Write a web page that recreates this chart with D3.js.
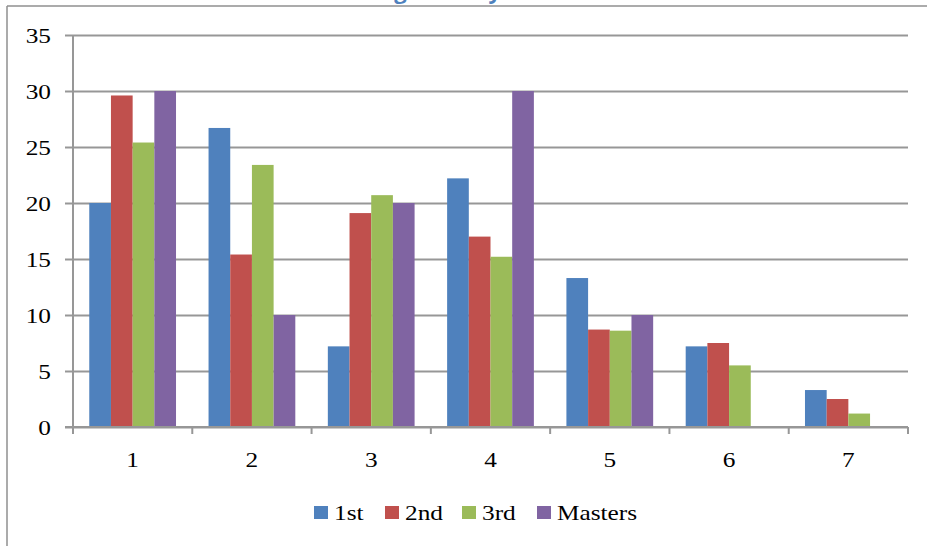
<!DOCTYPE html>
<html>
<head>
<meta charset="utf-8">
<script src="https://cdn.jsdelivr.net/npm/d3@7"></script>
<style>
  html, body { margin: 0; padding: 0; background: #fff; }
  svg { display: block; }
</style>
</head>
<body>
<svg id="chart" width="927" height="546"></svg>
<script>
// Categories along the x axis and one value array per series (percent)
const categories = ["1", "2", "3", "4", "5", "6", "7"];
const seriesNames = ["1st", "2nd", "3rd", "Masters"];
const first   = [20.0, 26.7, 7.2, 22.2, 13.3, 7.2, 3.3];
const second  = [29.6, 15.4, 19.1, 17.0, 8.7, 7.5, 2.5];
const third   = [25.4, 23.4, 20.7, 15.2, 8.6, 5.5, 1.2];
const masters = [30.0, 10.0, 20.0, 30.0, 10.0, 0, 0];
const yTicks  = [0, 5, 10, 15, 20, 25, 30, 35];
const titleText = "Ranking Band by Year";

const seriesValues = [first, second, third, masters];
const colors = ["#4F81BD", "#C0504D", "#9BBB59", "#8064A2"];

const svg = d3.select("#chart");
const W = 927, H = 546;
const plot = { left: 73, right: 908, top: 35, bottom: 427 };
const serif = "'Liberation Serif', 'Times New Roman', serif";
const gridColor = "#979797";
const stretch = 1.15;

// outer chart frame (only left and top edges fall inside the view)
svg.append("line").attr("x1", 7).attr("x2", W).attr("y1", 6).attr("y2", 6)
  .attr("stroke", "#8f8f8f").attr("stroke-width", 1.5);
svg.append("line").attr("x1", 7).attr("x2", 7).attr("y1", 6).attr("y2", H)
  .attr("stroke", "#8f8f8f").attr("stroke-width", 1.5);

// title, sitting mostly above the top edge of the view
svg.append("text")
  .attr("x", 437).attr("y", -1)
  .attr("text-anchor", "middle")
  .attr("font-family", "'Open Sans', sans-serif")
  .attr("font-weight", "bold")
  .attr("font-size", 22)
  .attr("fill", "#4F81BD")
  .text(titleText);

const x = d3.scaleBand()
  .domain(categories)
  .range([plot.left, plot.right])
  .paddingInner(0).paddingOuter(0);

const barW = x.bandwidth() / 5.5;
const xInner = d3.scaleBand()
  .domain(seriesNames)
  .range([barW * 0.75, x.bandwidth() - barW * 0.75]);

const y = d3.scaleLinear().domain([0, 35]).range([plot.bottom, plot.top]);

// horizontal gridlines with small outward ticks
const yAxis = d3.axisLeft(y).tickValues(yTicks)
  .tickSize(-(plot.right - plot.left)).tickSizeOuter(0).tickFormat("");
const gy = svg.append("g").attr("transform", `translate(${plot.left},0)`).call(yAxis);
gy.select(".domain").remove();
gy.selectAll(".tick line")
  .attr("x1", -8)
  .attr("stroke", gridColor).attr("stroke-width", 2);

// y tick labels
svg.append("g").selectAll("text")
  .data(yTicks)
  .join("text")
  .attr("transform", d => `translate(51,${y(d) + 8}) scale(${stretch},1)`)
  .attr("text-anchor", "end")
  .attr("font-family", serif)
  .attr("font-size", 22)
  .attr("fill", "#000")
  .text(d => d);

// vertical axis line
svg.append("line")
  .attr("x1", plot.left).attr("x2", plot.left)
  .attr("y1", plot.top).attr("y2", plot.bottom + 7)
  .attr("stroke", gridColor).attr("stroke-width", 2);

// bars
const rows = categories.map((c, i) => ({ cat: c, vals: seriesNames.map((s, j) => ({ s, j, v: seriesValues[j][i] })) }));
const groups = svg.append("g").selectAll("g")
  .data(rows)
  .join("g")
  .attr("transform", d => `translate(${x(d.cat)},0)`);
groups.selectAll("rect")
  .data(d => d.vals.filter(e => e.v > 0))
  .join("rect")
  .attr("x", d => xInner(d.s))
  .attr("width", xInner.bandwidth())
  .attr("y", d => y(d.v))
  .attr("height", d => y(0) - y(d.v))
  .attr("fill", d => colors[d.j]);

// x axis with category boundary ticks
const xBounds = categories.map(c => x(c)).concat([plot.right]);
svg.append("line")
  .attr("x1", plot.left - 8).attr("x2", plot.right)
  .attr("y1", plot.bottom).attr("y2", plot.bottom)
  .attr("stroke", gridColor).attr("stroke-width", 2);
svg.append("g").selectAll("line")
  .data(xBounds)
  .join("line")
  .attr("x1", d => d).attr("x2", d => d)
  .attr("y1", plot.bottom).attr("y2", plot.bottom + 7)
  .attr("stroke", gridColor).attr("stroke-width", 2);

// x tick labels
svg.append("g").selectAll("text")
  .data(categories)
  .join("text")
  .attr("transform", d => `translate(${x(d) + x.bandwidth() / 2},${467}) scale(${stretch},1)`)
  .attr("text-anchor", "middle")
  .attr("font-family", serif)
  .attr("font-size", 22)
  .attr("fill", "#000")
  .text(d => d);

// legend
const legendX = [314, 385, 462, 537];
const legend = svg.append("g").selectAll("g")
  .data(seriesNames)
  .join("g")
  .attr("transform", (d, i) => `translate(${legendX[i]},506)`);
legend.append("rect")
  .attr("width", 14).attr("height", 13)
  .attr("fill", (d, i) => colors[i]);
legend.append("text")
  .attr("transform", `translate(20,14) scale(${stretch},1)`)
  .attr("font-family", serif)
  .attr("font-size", 22)
  .attr("fill", "#000")
  .text(d => d);
</script>
</body>
</html>
